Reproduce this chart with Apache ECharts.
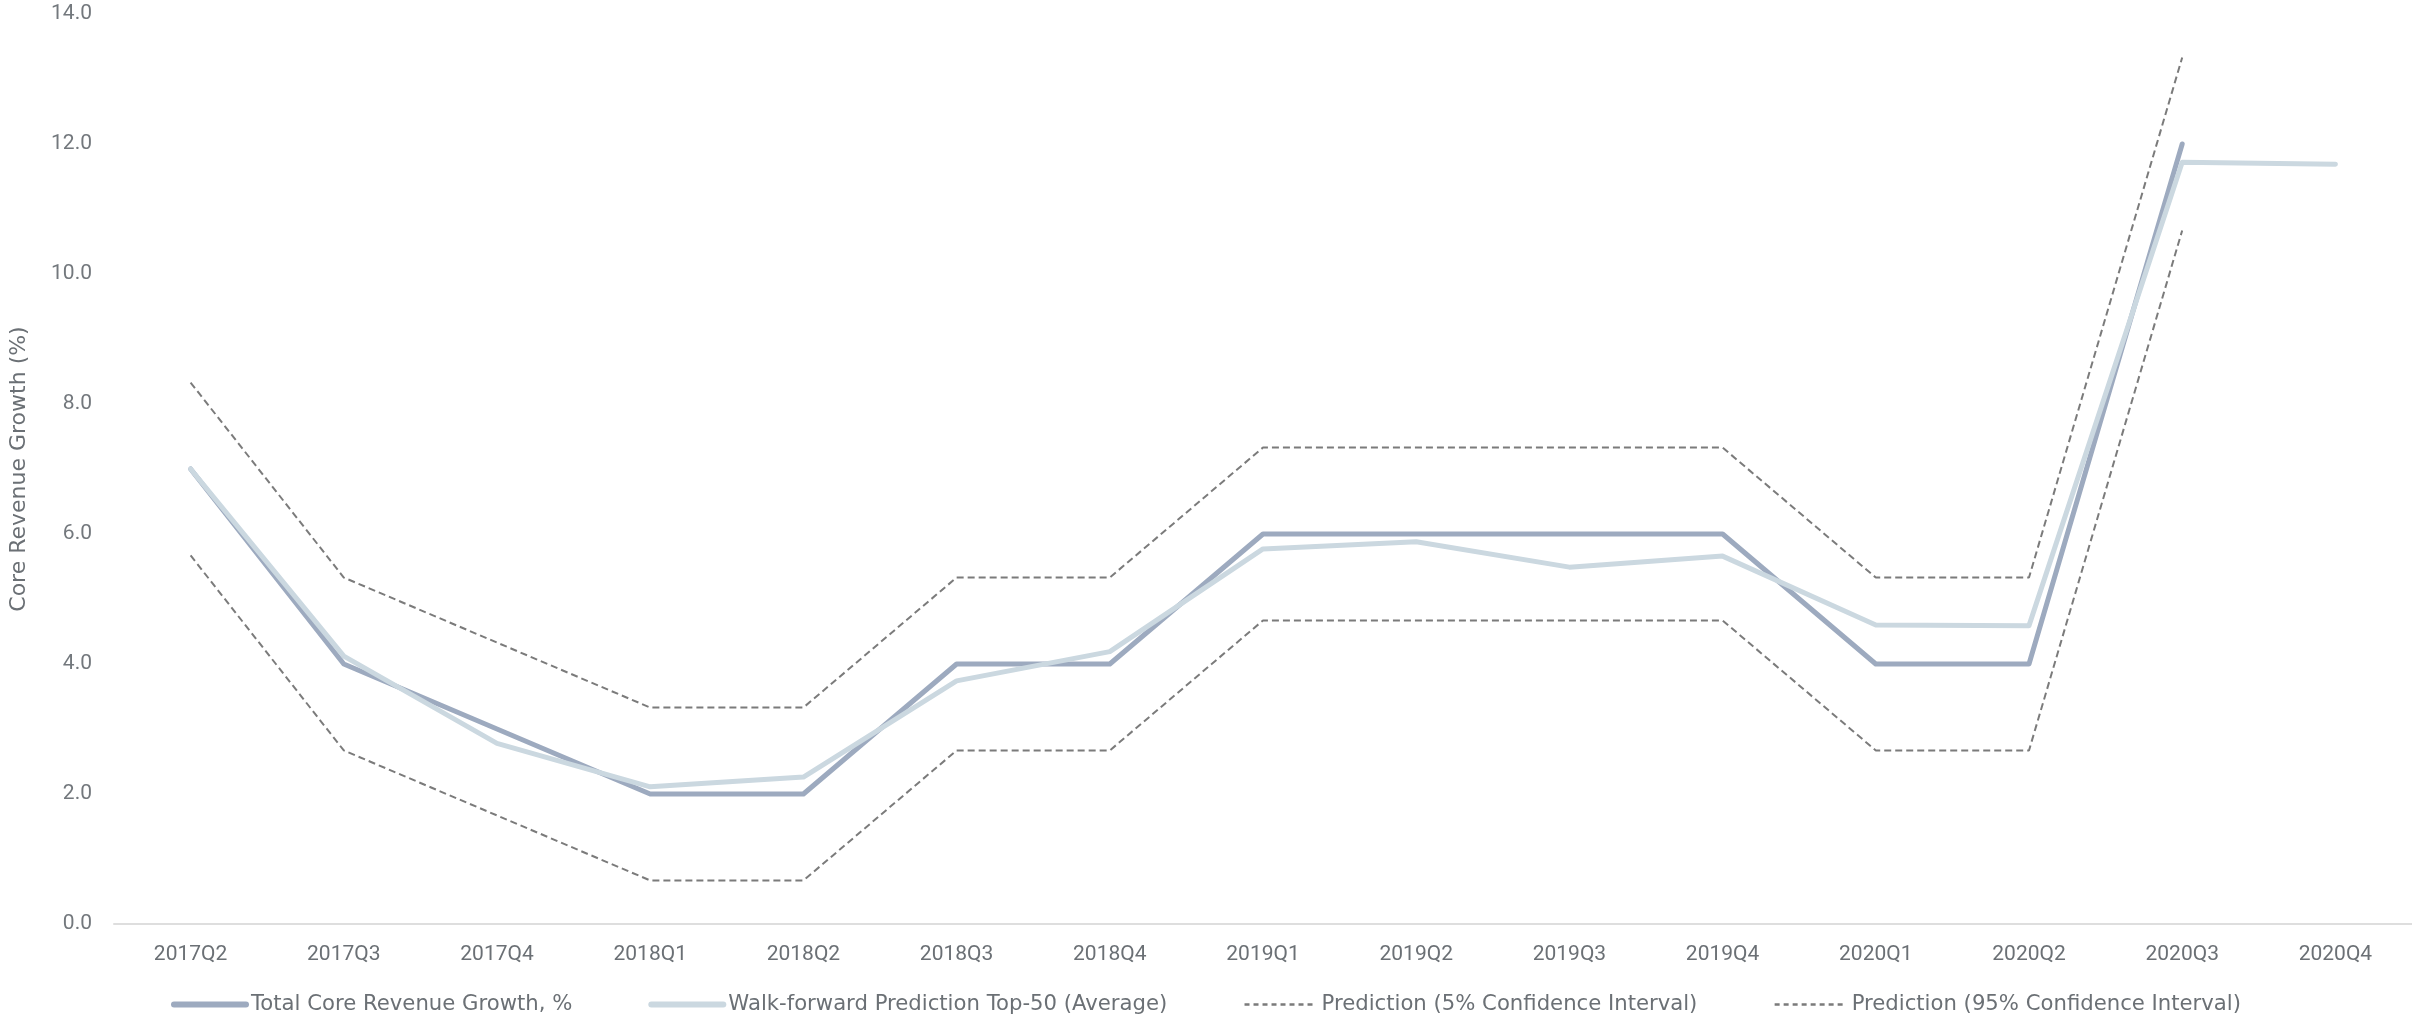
<!DOCTYPE html>
<html>
<head>
<meta charset="utf-8">
<script src="https://cdn.jsdelivr.net/npm/echarts@6/dist/echarts.min.js"></script>
<style>
html,body{margin:0;padding:0;background:#fff;}
#chart{width:2412px;height:1014px;}
</style>
</head>
<body>
<div id="chart"></div>
<script>
const categories = ['2017Q2','2017Q3','2017Q4','2018Q1','2018Q2','2018Q3','2018Q4','2019Q1','2019Q2','2019Q3','2019Q4','2020Q1','2020Q2','2020Q3','2020Q4'];
const totalGrowth = [7.0, 4.0, 3.0, 2.0, 2.0, 4.0, 4.0, 6.0, 6.0, 6.0, 6.0, 4.0, 4.0, 12.0, null];
const walkForward = [7.0, 4.12, 2.78, 2.11, 2.26, 3.74, 4.19, 5.77, 5.88, 5.49, 5.66, 4.60, 4.59, 11.72, 11.69];
const pred5 = [5.67, 2.67, 1.67, 0.67, 0.67, 2.67, 2.67, 4.67, 4.67, 4.67, 4.67, 2.67, 2.67, 10.67, null];
const pred95 = [8.33, 5.33, 4.33, 3.33, 3.33, 5.33, 5.33, 7.33, 7.33, 7.33, 7.33, 5.33, 5.33, 13.33, null];
const yTicks = {min: 0, max: 14, interval: 2};

const FONT = 'Roboto, "Noto Sans", sans-serif';
const WIDE = '"DejaVu Sans", sans-serif';
const chart = echarts.init(document.getElementById('chart'), null, {renderer: 'canvas'});
const dashStyle = {color: '#7b7b7b', width: 2, type: [7, 4]};
const solidLegendLine = {width: 6, cap: 'round'};
const dashLegendLine = {width: 2.5, type: [5, 4], color: '#7b7b7b'};
chart.setOption({
  animation: false,
  backgroundColor: '#ffffff',
  grid: {left: 104, right: 0, top: 14, bottom: 90, containLabel: false},
  legend: {
    left: 'center', top: 989,
    itemWidth: 72, itemHeight: 14, itemGap: 76,
    itemStyle: {opacity: 0},
    textStyle: {fontFamily: WIDE, fontSize: 21.2, color: '#6b7075'},
    data: [
      {name: 'Total Core Revenue Growth, %', lineStyle: solidLegendLine},
      {name: 'Walk-forward Prediction Top-50 (Average)', lineStyle: solidLegendLine},
      {name: 'Prediction (5% Confidence Interval)', lineStyle: dashLegendLine},
      {name: 'Prediction (95% Confidence Interval)', lineStyle: dashLegendLine}
    ]
  },
  xAxis: {
    type: 'category',
    data: categories,
    boundaryGap: true,
    axisLine: {show: true, lineStyle: {color: '#dedede', width: 2}},
    axisTick: {show: false},
    axisLabel: {fontFamily: FONT, fontSize: 21, color: '#6b7075', margin: 20, interval: 0},
    splitLine: {show: false}
  },
  yAxis: {
    type: 'value',
    min: yTicks.min, max: yTicks.max, interval: yTicks.interval,
    name: 'Core Revenue Growth (%)',
    nameLocation: 'middle',
    nameGap: 84,
    nameRotate: 90,
    nameTextStyle: {fontFamily: WIDE, fontSize: 22, color: '#6b7075'},
    axisLine: {show: false},
    axisTick: {show: false},
    splitLine: {show: false},
    axisLabel: {fontFamily: FONT, fontSize: 21, color: '#73787d', margin: 22, formatter: v => v.toFixed(1)}
  },
  series: [
    {
      name: 'Prediction (5% Confidence Interval)', type: 'line', data: pred5,
      showSymbol: false, symbol: 'none', lineStyle: dashStyle, itemStyle: {color: '#7b7b7b'}, z: 1
    },
    {
      name: 'Prediction (95% Confidence Interval)', type: 'line', data: pred95,
      showSymbol: false, symbol: 'none', lineStyle: dashStyle, itemStyle: {color: '#7b7b7b'}, z: 1
    },
    {
      name: 'Total Core Revenue Growth, %', type: 'line', data: totalGrowth,
      showSymbol: false, symbol: 'none',
      lineStyle: {color: '#9daabf', width: 5, cap: 'round', join: 'round'},
      itemStyle: {color: '#9daabf'}, z: 2
    },
    {
      name: 'Walk-forward Prediction Top-50 (Average)', type: 'line', data: walkForward,
      showSymbol: false, symbol: 'none',
      lineStyle: {color: '#cbd8e0', width: 5, cap: 'round', join: 'round'},
      itemStyle: {color: '#cbd8e0'}, z: 3
    }
  ]
});
</script>
</body>
</html>
